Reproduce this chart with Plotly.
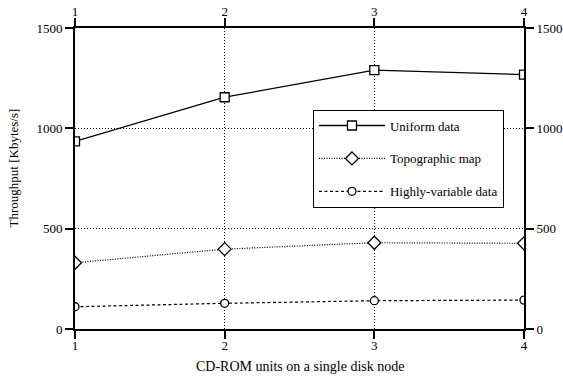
import plotly.graph_objects as go

x_units = [1, 2, 3, 4]
uniform = [935, 1155, 1290, 1268]
topographic = [330, 398, 430, 427]
highly_variable = [111, 128, 141, 144]

series_names = ["Uniform data", "Topographic map", "Highly-variable data"]
y_ticks = [0, 500, 1000, 1500]
x_title = "CD-ROM units on a single disk node"
y_title = "Throughput [Kbytes/s]"

FONT = "Liberation Serif"
fig = go.Figure()

fig.add_trace(go.Scatter(
    x=x_units, y=uniform, name=series_names[0], mode="lines+markers",
    line=dict(color="black", width=1.3, dash="solid"),
    marker=dict(symbol="square", size=9, color="white", line=dict(color="black", width=1.3)),
    legendgroup="a"))
fig.add_trace(go.Scatter(
    x=x_units, y=topographic, name=series_names[1], mode="lines+markers",
    line=dict(color="black", width=1.2, dash="1px,1.5px"),
    marker=dict(symbol="diamond", size=10, color="white", line=dict(color="black", width=1.3)),
    legendgroup="b"))
fig.add_trace(go.Scatter(
    x=x_units, y=highly_variable, name=series_names[2], mode="lines+markers",
    line=dict(color="black", width=1.2, dash="3px,2.5px"),
    marker=dict(symbol="circle", size=8, color="white", line=dict(color="black", width=1.3)),
    legendgroup="c"))

# invisible traces to bind the extra (mirrored / label-only) axes
for xa, ya in [("x2", "y2"), ("x3", "y"), ("x4", "y")]:
    fig.add_trace(go.Scatter(
        x=x_units, y=uniform, xaxis=xa, yaxis=ya, mode="markers",
        marker=dict(opacity=0), showlegend=False, hoverinfo="skip"))

tick_font = dict(family=FONT, size=13, color="black")
axis_common = dict(
    showline=True, linecolor="black", linewidth=2,
    ticks="outside", ticklen=8, tickwidth=1.5, tickcolor="black",
    tickfont=tick_font, zeroline=False, automargin=False,
)
x_label_axis = dict(
    range=[1, 4], tickvals=x_units, ticktext=[str(v) for v in x_units],
    overlaying="x", anchor="y", showline=False, showgrid=False, zeroline=False,
    ticks="outside", tickcolor="rgba(0,0,0,0)",
    tickfont=tick_font, automargin=False,
)

fig.update_layout(
    width=563, height=383,
    margin=dict(l=75, r=39, t=28, b=54),
    paper_bgcolor="white", plot_bgcolor="white",
    font=dict(family=FONT, size=13, color="black"),
    showlegend=True,
    legend=dict(
        x=0.530, y=0.729, xanchor="left", yanchor="top",
        bgcolor="white", bordercolor="black", borderwidth=1,
        font=dict(family=FONT, size=13, color="black"),
        traceorder="grouped", tracegroupgap=13,
        itemwidth=66,
    ),
    xaxis=dict(
        range=[1, 4], tickvals=x_units, showticklabels=False,
        showgrid=True, gridcolor="black", gridwidth=1, griddash="1px,2px",
        **axis_common),
    yaxis=dict(
        range=[0, 1500], tickvals=y_ticks,
        showgrid=True, gridcolor="black", gridwidth=1, griddash="1px,2px",
        **axis_common),
    xaxis2=dict(
        range=[1, 4], tickvals=x_units, overlaying="x", side="top",
        anchor="y", showgrid=False, showticklabels=False, **axis_common),
    yaxis2=dict(
        range=[0, 1500], tickvals=y_ticks, overlaying="y", side="right",
        anchor="x", showgrid=False, **axis_common),
    xaxis3=dict(side="bottom", ticklen=4, **x_label_axis),
    xaxis4=dict(side="top", ticklen=6, **x_label_axis),
    annotations=[
        dict(text=x_title, xref="paper", yref="paper", x=0.5, y=-0.123,
             xanchor="center", yanchor="middle", showarrow=False,
             font=dict(family=FONT, size=14, color="black")),
        dict(text=y_title, xref="paper", yref="paper", x=-0.136, y=0.5365,
             xanchor="center", yanchor="middle", showarrow=False, textangle=-90,
             font=dict(family=FONT, size=13, color="black")),
    ],
)

fig.write_html("out.html")
